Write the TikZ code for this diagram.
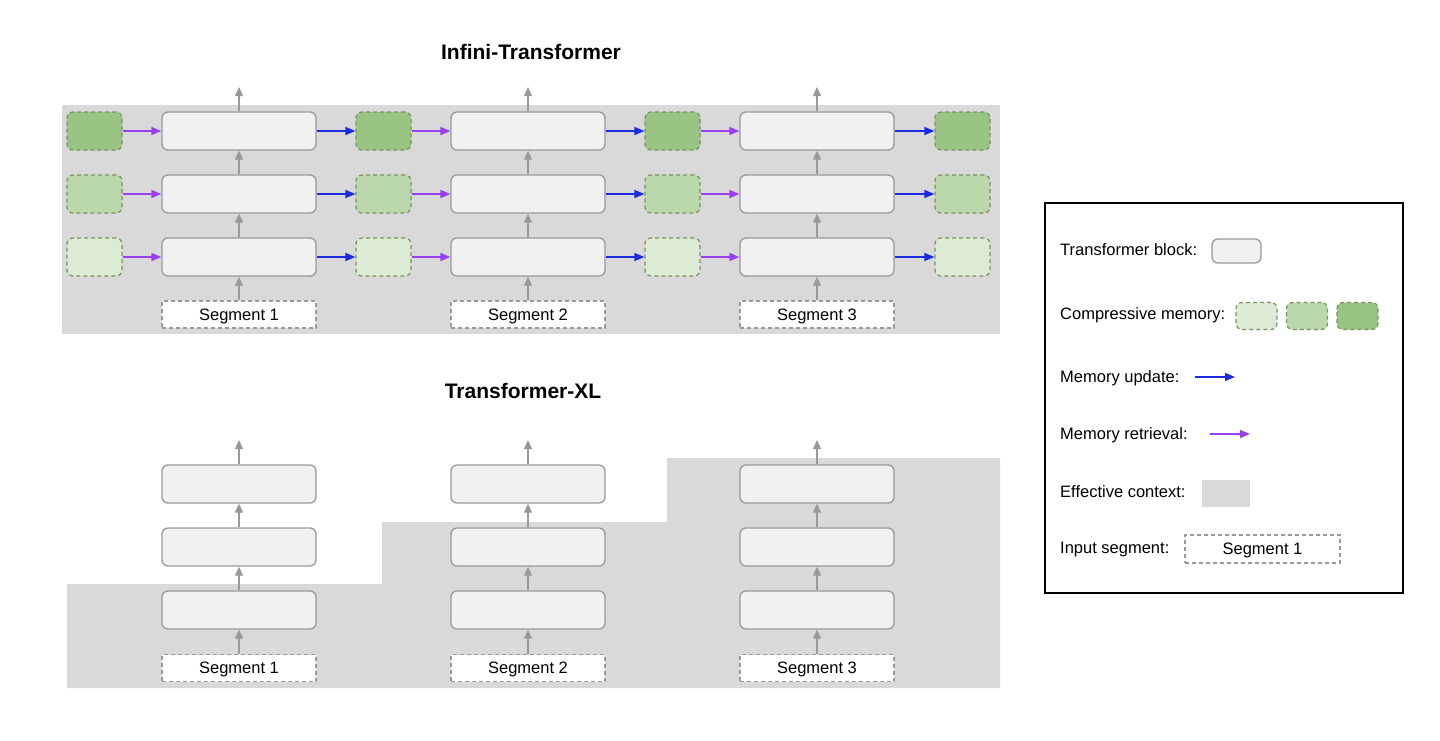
\documentclass[tikz,border=0pt]{standalone}
\usepackage{fontspec}
\setmainfont{Liberation Sans}
\usetikzlibrary{arrows.meta}
\definecolor{ctxgray}{HTML}{D9D9D9}
\definecolor{blockfill}{HTML}{F1F1F1}
\definecolor{blockline}{HTML}{999999}
\definecolor{memlight}{HTML}{DDEBD5}
\definecolor{memmid}{HTML}{BAD8AC}
\definecolor{memdark}{HTML}{9AC483}
\definecolor{memline}{HTML}{76935F}
\definecolor{updblue}{HTML}{1A2BE0}
\definecolor{retpurple}{HTML}{9A3FF0}
\tikzset{
  block/.style={draw=blockline, fill=blockfill, line width=1.3pt, rounded corners=6pt, minimum width=154pt, minimum height=38pt},
  mem/.style={draw=memline, line width=1.2pt, dash pattern=on 4pt off 3pt, rounded corners=6pt, minimum width=55pt, minimum height=38pt},
  segbox/.style={draw=blockline, fill=white, line width=1.2pt, dash pattern=on 4pt off 3pt, minimum width=154pt, minimum height=27pt, inner sep=0pt, text height=11.8pt, text depth=0pt, font=\fontsize{16.5}{18}\selectfont},
  uparr/.style={draw=blockline, line width=1.3pt, -{Triangle[length=9pt,width=8pt]}},
  update/.style={draw=updblue, line width=1.5pt, -{Triangle[length=10pt,width=8pt]}},
  retrieve/.style={draw=retpurple, line width=1.5pt, -{Triangle[length=10pt,width=8pt]}},
  legtext/.style={anchor=west, inner sep=0pt, text height=11.8pt, text depth=0pt, font=\fontsize{16.5}{18}\selectfont},
  heading/.style={font=\fontsize{21}{24}\selectfont\bfseries}
}
\begin{document}
\begin{tikzpicture}[x=1pt,y=-1pt]
\useasboundingbox (0,0) rectangle (1440,740);
\fill[ctxgray] (62,105) rectangle (1000,334);
\fill[ctxgray] (67,584) -- (382,584) -- (382,522) -- (667,522) -- (667,458) -- (1000,458) -- (1000,688) -- (67,688) -- cycle;
\node[heading] (infini) at (531,52) {Infini-Transformer};
\node[heading] (txl) at (523,391) {Transformer-XL};
\foreach \c/\x in {0/94.5,1/383.5,2/672.5,3/962.5} {
  \node[mem,fill=memdark] (m1\c) at (\x,131) {};
  \node[mem,fill=memmid] (m2\c) at (\x,194) {};
  \node[mem,fill=memlight] (m3\c) at (\x,257) {};
}
\foreach \c/\x in {1/239,2/528,3/817} {
  \node[segbox] (ts\c) at (\x,314.5) {Segment \c};
  \node[block] (tb3\c) at (\x,257) {};
  \node[block] (tb2\c) at (\x,194) {};
  \node[block] (tb1\c) at (\x,131) {};
  \coordinate (to\c) at (\x,87);
  \draw[uparr] (ts\c) -- (tb3\c);
  \draw[uparr] (tb3\c) -- (tb2\c);
  \draw[uparr] (tb2\c) -- (tb1\c);
  \draw[uparr] (tb1\c) -- (to\c);
  \node[segbox] (xs\c) at (\x,668) {Segment \c};
  \node[block] (xb3\c) at (\x,610) {};
  \node[block] (xb2\c) at (\x,547) {};
  \node[block] (xb1\c) at (\x,484) {};
  \coordinate (xo\c) at (\x,440);
  \draw[uparr] (xs\c) -- (xb3\c);
  \draw[uparr] (xb3\c) -- (xb2\c);
  \draw[uparr] (xb2\c) -- (xb1\c);
  \draw[uparr] (xb1\c) -- (xo\c);
}
\foreach \p/\c in {0/1,1/2,2/3} {
  \foreach \r in {1,2,3} {
    \draw[retrieve] (m\r\p) -- (tb\r\c);
    \draw[update] (tb\r\c) -- (m\r\c);
  }
}
\draw[line width=1.3pt] (1045,203) rectangle (1403,593);
\node[legtext] (lblock) at (1060,250) {Transformer block:};
\node[block,minimum width=49pt,minimum height=24pt] (kblock) at (1236.5,251) {};
\node[legtext] (lmem) at (1060,314) {Compressive memory:};
\node[mem,fill=memlight,minimum width=41pt,minimum height=27pt] (kmem1) at (1256.5,316) {};
\node[mem,fill=memmid,minimum width=41pt,minimum height=27pt] (kmem2) at (1307,316) {};
\node[mem,fill=memdark,minimum width=41pt,minimum height=27pt] (kmem3) at (1357.5,316) {};
\node[legtext] (lupd) at (1060,377) {Memory update:};
\coordinate (kupda) at (1195,377);
\coordinate (kupdb) at (1235,377);
\draw[update] (kupda) -- (kupdb);
\node[legtext] (lret) at (1060,434) {Memory retrieval:};
\coordinate (kreta) at (1210,434);
\coordinate (kretb) at (1250,434);
\draw[retrieve] (kreta) -- (kretb);
\node[legtext] (lctx) at (1060,492) {Effective context:};
\node[fill=ctxgray,minimum width=48pt,minimum height=27pt] (kctx) at (1226,493.5) {};
\node[legtext] (lseg) at (1060,548) {Input segment:};
\node[segbox,minimum width=155pt,minimum height=28pt] (kseg) at (1262.5,549) {Segment 1};
\end{tikzpicture}
\end{document}
